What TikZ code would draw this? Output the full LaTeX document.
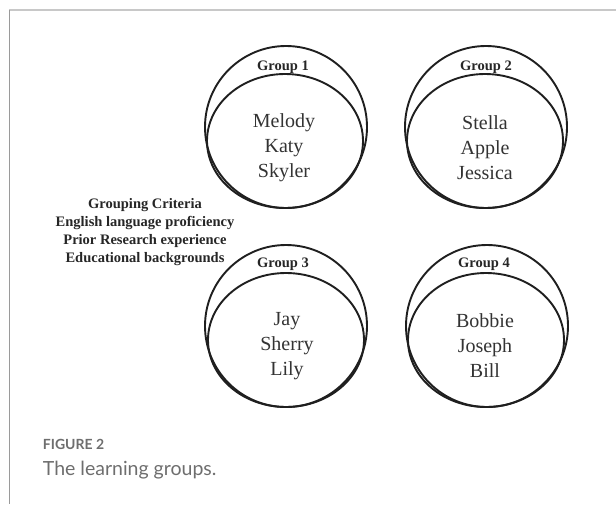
\documentclass[tikz,border=0pt]{standalone}
\usepackage{fontspec}
\setmainfont{Liberation Serif}
\newfontfamily\capfont{Lato}
\usepackage{tikz}
\usetikzlibrary{shapes.geometric}
\definecolor{frameline}{HTML}{C8C8C8}
\definecolor{frameside}{HTML}{9A9A9A}
\definecolor{capgray}{HTML}{6E6E6E}

\begin{document}
\begin{tikzpicture}[x=1pt, y=-1pt, line width=1.9pt,
	outer/.style = {draw=black!88, shape=circle, minimum size=162pt, inner sep=0pt},
	inner/.style = {draw=black!88, shape=ellipse, minimum width=156pt, minimum height=134pt, inner sep=0pt},
	names/.style = {align=center, font=\fontsize{20}{25}\selectfont, text=black!80},
	grouplabel/.style = {anchor=base, font=\bfseries\fontsize{14.5}{17}\selectfont, text=black!85}]
	\useasboundingbox (0,0) rectangle (616,504);
	% frame
	\draw[frameline, line width=1.5pt] (9,10) -- (616,10);
	\draw[frameside, line width=0.9pt] (9,10) -- (9,504);
	% groups
	\node (G1) at (286,127) [outer] {};
	\node (E1) at (285,141) [inner] {};
	\node (L1) at (283,70) [grouplabel] {Group 1};
	\node (N1) at (284,148) [names] {Melody\\Katy\\Skyler};
	\node (G2) at (486,127) [outer] {};
	\node (E2) at (485,141) [inner] {};
	\node (L2) at (486,70) [grouplabel] {Group 2};
	\node (N2) at (485,148) [names] {Stella\\Apple\\Jessica};
	\node (G3) at (286,326) [outer] {};
	\node (E3) at (286,340) [inner] {};
	\node (L3) at (283,267) [grouplabel] {Group 3};
	\node (N3) at (287,346) [names] {Jay\\Sherry\\Lily};
	\node (G4) at (487,326) [outer] {};
	\node (E4) at (486,340) [inner] {};
	\node (L4) at (484,267) [grouplabel] {Group 4};
	\node (N4) at (485,346) [names] {Bobbie\\Joseph\\Bill};
	% criteria
	\node (crit) at (145,232) [align=center, text=black!85, font=\bfseries\fontsize{14.5}{18}\selectfont]
		{Grouping Criteria\\English language proficiency\\Prior Research experience\\Educational backgrounds};
	% caption
	\node (fig) at (42,449) [anchor=base west, inner sep=0pt, text=capgray, font=\capfont\bfseries\fontsize{14}{16}\selectfont] {FIGURE 2};
	\node (cap) at (42,475) [anchor=base west, inner sep=0pt, text=capgray, font=\capfont\fontsize{19.5}{22}\selectfont] {The learning groups.};
\end{tikzpicture}
\end{document}
